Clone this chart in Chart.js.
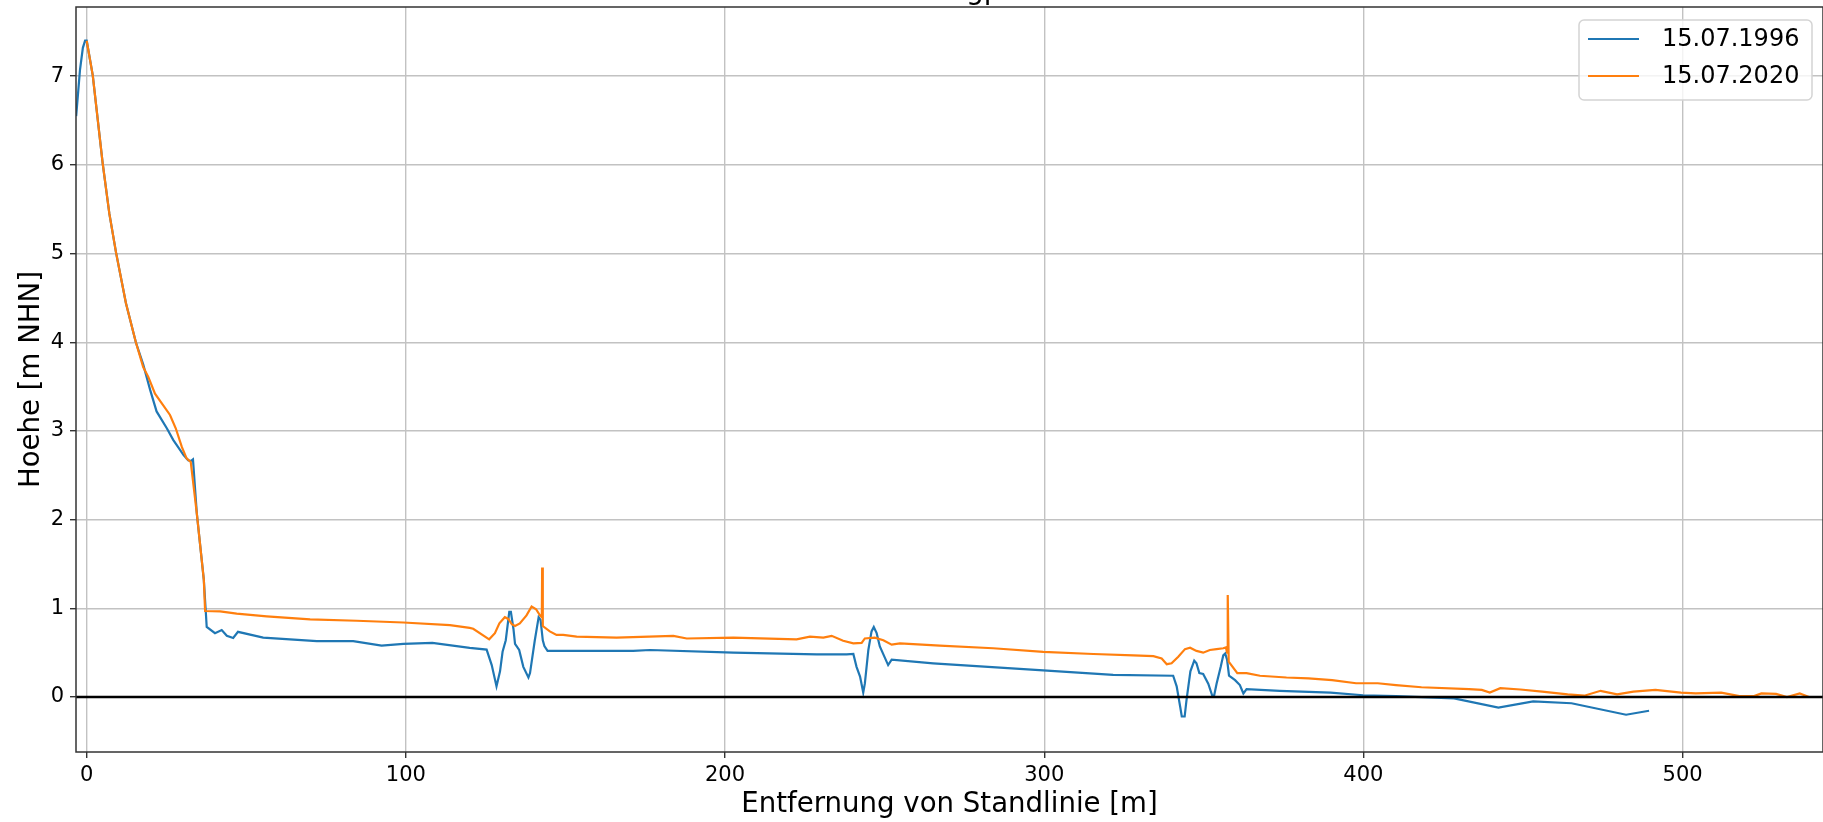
<!DOCTYPE html>
<html>
<head>
<meta charset="utf-8">
<script src="https://cdn.jsdelivr.net/npm/chart.js@4.4.1/dist/chart.umd.min.js"></script>
<style>
html, body { margin: 0; padding: 0; background: #ffffff; }
canvas { display: block; }
</style>
</head>
<body>
<canvas id="profil" width="1823" height="822"></canvas>
<script>
// Messreihen: Entfernung von der Standlinie [m] und Höhe [m NHN]
const seriesLabels = ['15.07.1996', '15.07.2020'];
const seriesColors = ['#1f77b4', '#ff7f0e'];

const dist1996 = [-3.3, -2.1, -1.2, -0.5, 0.0, 1.9, 5.0, 7.1, 9.2, 12.3, 15.4, 17.7, 19.9, 21.9, 25.1, 27.1, 30.3, 31.8, 32.6, 33.3, 34.5, 36.7, 37.3, 37.6, 40.2, 42.3, 43.9, 45.9, 47.4, 55.3, 72.1, 83.5, 92.4, 99.2, 108.3, 120.0, 125.3, 126.9, 128.4, 129.5, 130.3, 131.3, 132.4, 132.9, 133.7, 134.2, 135.5, 136.8, 138.4, 138.9, 140.4, 141.6, 142.2, 142.9, 143.4, 144.4, 171.2, 176.5, 202.6, 228.7, 238.1, 240.2, 241.2, 242.3, 243.3, 243.8, 244.9, 245.9, 246.6, 247.5, 248.5, 251.1, 252.2, 265.2, 299.7, 321.6, 340.4, 341.5, 342.6, 343.1, 344.0, 344.6, 345.8, 347.0, 347.7, 348.6, 349.8, 351.4, 352.6, 353.2, 354.0, 355.3, 356.1, 356.7, 357.3, 357.9, 359.8, 361.3, 362.4, 363.4, 373.8, 389.7, 399.9, 410.2, 428.4, 442.3, 453.2, 465.2, 482.3, 489.5];
const height1996 = [6.55, 7.07, 7.32, 7.40, 7.40, 7.01, 6.02, 5.45, 5.01, 4.44, 4.00, 3.75, 3.46, 3.22, 3.03, 2.90, 2.73, 2.67, 2.66, 2.68, 2.07, 1.32, 0.97, 0.79, 0.72, 0.755, 0.69, 0.665, 0.735, 0.67, 0.63, 0.63, 0.58, 0.60, 0.61, 0.555, 0.535, 0.36, 0.12, 0.29, 0.51, 0.64, 0.96, 0.96, 0.77, 0.60, 0.53, 0.34, 0.22, 0.27, 0.64, 0.90, 0.87, 0.64, 0.575, 0.52, 0.52, 0.53, 0.50, 0.48, 0.48, 0.485, 0.34, 0.23, 0.05, 0.15, 0.53, 0.74, 0.79, 0.72, 0.57, 0.36, 0.42, 0.38, 0.30, 0.25, 0.24, 0.12, -0.11, -0.22, -0.22, -0.03, 0.29, 0.41, 0.38, 0.27, 0.26, 0.15, 0.02, 0.01, 0.15, 0.34, 0.47, 0.49, 0.42, 0.24, 0.19, 0.135, 0.04, 0.09, 0.07, 0.05, 0.02, 0.01, -0.015, -0.12, -0.05, -0.07, -0.20, -0.155];

const dist2020 = [0.0, 1.9, 5.0, 7.1, 9.2, 12.3, 15.4, 17.7, 19.3, 21.4, 26.1, 27.9, 29.8, 31.3, 32.6, 34.5, 36.7, 37.1, 41.8, 47.0, 56.4, 70.0, 84.6, 99.2, 113.8, 120.0, 121.1, 126.1, 127.9, 129.3, 131.0, 132.1, 133.2, 134.2, 135.7, 137.8, 139.4, 140.8, 142.0, 142.6, 142.7, 142.9, 145.1, 147.2, 149.3, 153.5, 166.0, 183.8, 188.0, 202.6, 222.4, 226.6, 230.8, 233.4, 237.0, 240.2, 242.8, 243.8, 246.9, 249.6, 252.2, 254.8, 267.3, 284.0, 299.7, 315.4, 327.9, 334.2, 336.8, 338.4, 339.9, 342.0, 344.1, 345.7, 347.7, 349.8, 351.9, 354.0, 356.1, 356.9, 357.3, 357.5, 357.8, 360.5, 363.4, 367.6, 375.9, 382.8, 390.2, 397.7, 404.5, 410.2, 418.2, 433.1, 437.1, 439.6, 442.9, 449.2, 456.0, 464.0, 469.2, 474.3, 479.5, 484.6, 491.5, 499.5, 504.1, 512.1, 517.8, 522.4, 524.7, 529.3, 532.7, 536.7, 539.6, 541.0];
const height2020 = [7.40, 7.01, 6.02, 5.45, 5.01, 4.44, 4.00, 3.72, 3.61, 3.42, 3.18, 3.03, 2.82, 2.69, 2.65, 2.07, 1.32, 0.97, 0.965, 0.94, 0.91, 0.876, 0.86, 0.84, 0.81, 0.78, 0.77, 0.65, 0.72, 0.83, 0.90, 0.88, 0.82, 0.80, 0.83, 0.92, 1.02, 0.99, 0.92, 0.90, 1.46, 0.80, 0.74, 0.70, 0.70, 0.68, 0.67, 0.69, 0.66, 0.67, 0.65, 0.68, 0.67, 0.69, 0.635, 0.605, 0.61, 0.66, 0.67, 0.64, 0.59, 0.605, 0.58, 0.55, 0.51, 0.485, 0.47, 0.46, 0.435, 0.37, 0.38, 0.455, 0.54, 0.555, 0.52, 0.50, 0.53, 0.54, 0.55, 0.56, 0.50, 1.15, 0.40, 0.27, 0.27, 0.24, 0.22, 0.21, 0.19, 0.155, 0.155, 0.135, 0.11, 0.09, 0.08, 0.05, 0.10, 0.085, 0.06, 0.03, 0.015, 0.07, 0.03, 0.06, 0.08, 0.05, 0.04, 0.05, 0.01, 0.01, 0.04, 0.035, 0.00, 0.04, 0.00, 0.00];

const xTicks = [0, 100, 200, 300, 400, 500];
const yTicks = [0, 1, 2, 3, 4, 5, 6, 7];
const xRange = [-3.35, 544];
const yRange = [-0.62, 7.78];
const referenceLevel = 0;

const chartTitle = 'Messungprofil';
const xTitle = 'Entfernung von Standlinie [m]';
const yTitle = 'Hoehe [m NHN]';

const FONT = 'DejaVu Sans';
Chart.defaults.font.family = FONT;
Chart.defaults.color = '#000000';

function toPoints(xs, ys) {
  return xs.map((x, i) => ({ x: x, y: ys[i] }));
}

// Title: sits above the plot frame, mostly outside the canvas
const titlePlugin = {
  id: 'topTitle',
  afterDraw(chart) {
    const { ctx, chartArea } = chart;
    ctx.save();
    ctx.font = '28px "' + FONT + '"';
    ctx.fillStyle = '#000';
    ctx.textAlign = 'center';
    ctx.textBaseline = 'alphabetic';
    ctx.fillText(chartTitle, (chartArea.left + chartArea.right) / 2 + 8, -1);
    ctx.restore();
  }
};

// Horizontal reference line at 0 m NHN
const zeroLinePlugin = {
  id: 'zeroLine',
  afterDatasetsDraw(chart) {
    const { ctx, chartArea, scales } = chart;
    const y = scales.y.getPixelForValue(referenceLevel);
    ctx.save();
    ctx.strokeStyle = '#000000';
    ctx.lineWidth = 2.6;
    ctx.beginPath();
    ctx.moveTo(chartArea.left, y);
    ctx.lineTo(chartArea.right, y);
    ctx.stroke();
    ctx.restore();
  }
};

// Frame around the plot area
const framePlugin = {
  id: 'frame',
  afterDraw(chart) {
    const { ctx, chartArea } = chart;
    ctx.save();
    ctx.strokeStyle = '#333333';
    ctx.lineWidth = 1.5;
    ctx.strokeRect(chartArea.left, chartArea.top, chartArea.right - chartArea.left, chartArea.bottom - chartArea.top);
    ctx.restore();
  }
};

// Legend box in the upper right corner
const legendPlugin = {
  id: 'boxLegend',
  afterDraw(chart) {
    const { ctx, chartArea } = chart;
    const w = 233, h = 80, r = 5;
    const x0 = chartArea.right - 11 - w;
    const y0 = chartArea.top + 13;
    ctx.save();
    ctx.beginPath();
    ctx.roundRect(x0, y0, w, h, r);
    ctx.fillStyle = 'rgba(255,255,255,0.8)';
    ctx.fill();
    ctx.strokeStyle = '#d4d4d4';
    ctx.lineWidth = 1.5;
    ctx.stroke();
    ctx.font = '24px "' + FONT + '"';
    ctx.textBaseline = 'middle';
    ctx.textAlign = 'left';
    seriesLabels.forEach((label, i) => {
      const cy = y0 + 19 + i * 37;
      ctx.strokeStyle = seriesColors[i];
      ctx.lineWidth = 2.2;
      ctx.beginPath();
      ctx.moveTo(x0 + 9, cy);
      ctx.lineTo(x0 + 60, cy);
      ctx.stroke();
      ctx.fillStyle = '#000';
      ctx.fillText(label, x0 + 83, cy + 1);
    });
    ctx.restore();
  }
};

new Chart(document.getElementById('profil'), {
  type: 'scatter',
  data: {
    datasets: [
      {
        label: seriesLabels[0],
        data: toPoints(dist1996, height1996),
        showLine: true,
        borderColor: seriesColors[0],
        backgroundColor: seriesColors[0],
        borderWidth: 2.2,
        pointRadius: 0,
        tension: 0,
        order: 1
      },
      {
        label: seriesLabels[1],
        data: toPoints(dist2020, height2020),
        showLine: true,
        borderColor: seriesColors[1],
        backgroundColor: seriesColors[1],
        borderWidth: 2.2,
        pointRadius: 0,
        tension: 0,
        order: 0
      }
    ]
  },
  options: {
    responsive: false,
    animation: false,
    devicePixelRatio: 1,
    layout: { padding: { top: 7, left: 0, right: 0, bottom: 0 } },
    plugins: {
      legend: { display: false },
      tooltip: { enabled: false },
      title: { display: false }
    },
    scales: {
      x: {
        type: 'linear',
        min: xRange[0],
        max: xRange[1],
        afterBuildTicks(scale) { scale.ticks = xTicks.map(v => ({ value: v })); },
        afterFit(scale) { scale.height = 70; scale.paddingLeft = 0; scale.paddingRight = 0; },
        grid: { color: '#c2c2c2', lineWidth: 1.4, tickColor: '#333333', tickLength: 6, tickWidth: 1.4 },
        border: { display: false },
        ticks: { font: { size: 21 }, color: '#000', padding: 5, maxRotation: 0 },
        title: { display: true, text: xTitle, font: { size: 27.6 }, color: '#000', padding: { top: 0, bottom: 1 } }
      },
      y: {
        type: 'linear',
        min: yRange[0],
        max: yRange[1],
        afterBuildTicks(scale) { scale.ticks = yTicks.map(v => ({ value: v })); },
        afterFit(scale) { scale.width = 76; scale.paddingTop = 0; scale.paddingBottom = 0; },
        grid: { color: '#c2c2c2', lineWidth: 1.4, tickColor: '#333333', tickLength: 6, tickWidth: 1.4 },
        border: { display: false },
        ticks: { font: { size: 21 }, color: '#000', padding: 6 },
        title: { display: true, text: yTitle, font: { size: 27.6 }, color: '#000', padding: { top: 15, bottom: 0 } }
      }
    }
  },
  plugins: [zeroLinePlugin, framePlugin, legendPlugin, titlePlugin]
});
</script>
</body>
</html>
